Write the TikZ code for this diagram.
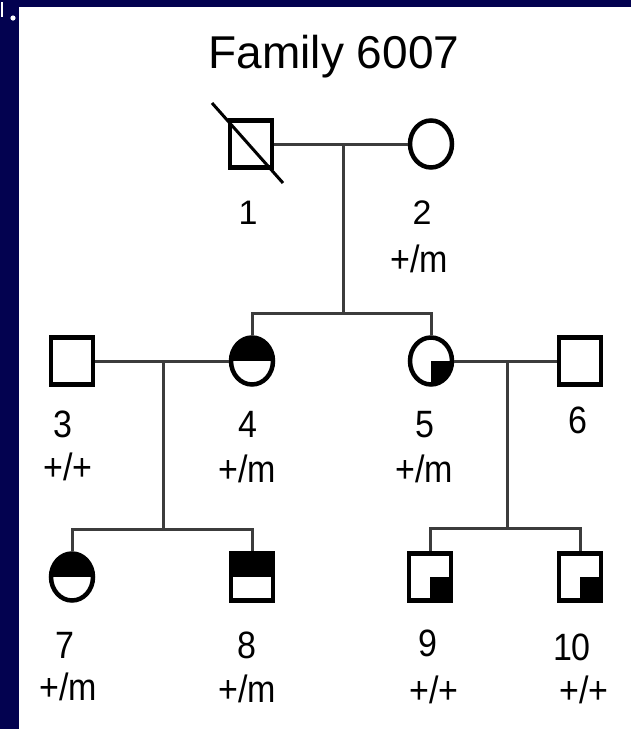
\documentclass[tikz,border=0pt]{standalone}
\usepackage{fontspec}
\setmainfont{Liberation Sans}
\usetikzlibrary{shapes.geometric}
\definecolor{navy}{RGB}{3,2,80}
\definecolor{wire}{RGB}{60,60,60}

\begin{document}
\begin{tikzpicture}[x=1pt,y=-1pt,
  person/.style={draw=black, line width=4.5pt, fill=white, inner sep=0pt,
                 minimum width=42pt, minimum height=47pt},
  male/.style={person, rectangle},
  female/.style={person, ellipse},
  tophalf/.style={path picture={\fill[black] (path picture bounding box.north west)
                   rectangle (path picture bounding box.east);}},
  quarter/.style={path picture={\fill[black] (path picture bounding box.center)
                   rectangle (path picture bounding box.south east);}},
  link/.style={draw=wire, line width=3pt},
  lab/.style={font=\fontsize{34}{36}\selectfont, anchor=base, inner sep=0pt},
  ttl/.style={font=\fontsize{46}{50}\selectfont, anchor=base, inner sep=0pt},
]
% page and frame
\useasboundingbox (0,0) rectangle (631,729);
\fill[white] (0,0) rectangle (631,729);
\fill[navy] (0,0) rectangle (631,7);
\fill[navy] (0,0) rectangle (19,729);
\fill[white] (1,2) rectangle (3,17);
\fill[white] (13,18) circle (2.6);

% title
\node[ttl] (title) at (334,68) {Family 6007};

% generation I
\node[male]   (n1) at (251,144) {};
\node[female] (n2) at (431,144) {};
\draw[black, line width=3pt] ([shift={(-39,-41)}]n1.center) -- ([shift={(32,39)}]n1.center);

% generation II
\node[male]            (n3) at (72,361) {};
\node[female,tophalf]  (n4) at (252,361) {};
\node[female,quarter]  (n5) at (431,361) {};
\node[male]            (n6) at (580,361) {};

% generation III
\node[female,tophalf]  (n7)  at (72,577) {};
\node[male,tophalf]    (n8)  at (252,577) {};
\node[male,quarter]    (n9)  at (430,577) {};
\node[male,quarter]    (n10) at (580,577) {};

% couples and descent lines
\coordinate (m12) at (343,144);
\coordinate (s12) at (343,313);
\coordinate (m34) at (163,361);
\coordinate (s34) at (163,529);
\coordinate (m56) at (507,361);
\coordinate (s56) at (507,528);

\draw[link] (n1.east) -- (n2.west);
\draw[link] (m12) -- (s12);
\draw[link] (n4.north) |- (s12) -| (n5.north);

\draw[link] (n3.east) -- (n4.west);
\draw[link] (m34) -- (s34);
\draw[link] (n7.north) |- (s34) -| (n8.north);

\draw[link] (n5.east) -- (n6.west);
\draw[link] (m56) -- (s56);
\draw[link] (n9.north) |- (s56) -| (n10.north);

% identifiers and genotypes
\node[lab] (l1) at (248,224) {1};
\node[lab] (l2) at (422,224) {2};
\node[lab] (g2) at (419,272) {\scalebox{1}[1.12]{+/m}};

\node[lab] (l3) at (63,437) {\scalebox{1}[1.12]{3}};
\node[lab] (g3) at (68,480) {\scalebox{1}[1.12]{+/+}};
\node[lab] (l4) at (248,437) {\scalebox{1}[1.12]{4}};
\node[lab] (g4) at (247,482) {\scalebox{1}[1.12]{+/m}};
\node[lab] (l5) at (425,437) {\scalebox{1}[1.12]{5}};
\node[lab] (g5) at (424,482) {\scalebox{1}[1.12]{+/m}};
\node[lab] (l6) at (578,433) {\scalebox{1}[1.12]{6}};

\node[lab] (l7)  at (65,658)  {\scalebox{1}[1.12]{7}};
\node[lab] (g7)  at (68,700)  {\scalebox{1}[1.12]{+/m}};
\node[lab] (l8)  at (247,658) {\scalebox{1}[1.12]{8}};
\node[lab] (g8)  at (247,702) {\scalebox{1}[1.12]{+/m}};
\node[lab] (l9)  at (428,656) {\scalebox{1}[1.12]{9}};
\node[lab] (g9)  at (434,703) {\scalebox{1}[1.12]{+/+}};
\node[lab] (l10) at (572,660) {\scalebox{1}[1.12]{10}};
\node[lab] (g10) at (584,703) {\scalebox{1}[1.12]{+/+}};
\end{tikzpicture}
\end{document}
